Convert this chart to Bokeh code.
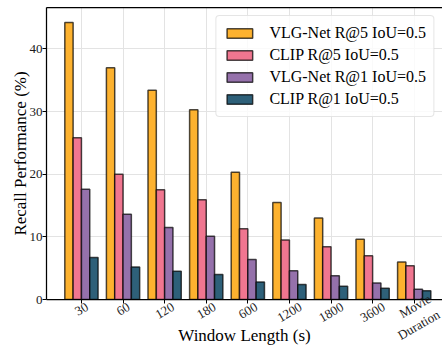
import math
import numpy as np
from bokeh.plotting import figure
from bokeh.models import ColumnDataSource, Range1d, FixedTicker, LinearAxis
from bokeh.embed import file_html
from bokeh.resources import INLINE

# ---- data ----
windows = ["30", "60", "120", "180", "600", "1200", "1800", "3600", "Movie\nDuration"]
vlg_r5 = [44.2, 37.0, 33.4, 30.3, 20.3, 15.5, 13.0, 9.6, 6.0]
clip_r5 = [25.8, 20.0, 17.5, 15.9, 11.3, 9.5, 8.4, 7.0, 5.4]
vlg_r1 = [17.6, 13.6, 11.5, 10.1, 6.4, 4.6, 3.8, 2.65, 1.65]
clip_r1 = [6.7, 5.2, 4.5, 4.0, 2.8, 2.4, 2.1, 1.8, 1.4]
series_names = ["VLG-Net R@5 IoU=0.5", "CLIP R@5 IoU=0.5",
                "VLG-Net R@1 IoU=0.5", "CLIP R@1 IoU=0.5"]
y_ticks = [0, 10, 20, 30, 40]

# ---- style ----
FONT = "Liberation Serif"
colors = ["#FDB22F", "#F07690", "#9571AB", "#2E6079"]
bar_w = 0.2
idx = np.arange(len(windows))
X0, X1 = -0.84, 8.68
FRAME_W = 442 - 46

p = figure(width=442, height=348, output_backend="svg", toolbar_location=None,
           x_range=Range1d(X0, X1), y_range=Range1d(0, 46.6),
           min_border_left=46, min_border_right=0, min_border_top=7,
           min_border_bottom=48)
p.outline_line_color = None
p.background_fill_color = "white"
p.border_fill_color = "white"

# grid
p.xgrid.ticker = FixedTicker(ticks=[float(i) for i in idx])
p.xgrid.grid_line_color = "#e3e3e3"
p.ygrid.grid_line_color = "#e3e3e3"
p.xgrid.grid_line_width = 1
p.ygrid.grid_line_width = 1

# bars
all_series = [vlg_r5, clip_r5, vlg_r1, clip_r1]
for k, (vals, col, name) in enumerate(zip(all_series, colors, series_names)):
    src = ColumnDataSource(dict(x=idx + (k - 1.5) * bar_w, top=vals))
    p.vbar(x="x", top="top", width=bar_w, source=src, fill_color=col,
           line_color="black", line_alpha=0.7, line_width=1.5,
           legend_label=name)

# y axis
ya = p.yaxis[0]
ya.ticker = FixedTicker(ticks=y_ticks)
ya.axis_label = "Recall Performance (%)"
ya.axis_label_text_font = FONT
ya.axis_label_text_font_size = "17px"
ya.axis_label_text_font_style = "normal"
ya.axis_label_text_color = "black"
ya.axis_label_standoff = -3
ya.major_label_text_font = FONT
ya.major_label_text_font_size = "13px"
ya.major_label_text_color = "#1a1a1a"
ya.major_label_standoff = 0
ya.major_tick_out = 4
ya.major_tick_in = 0
ya.minor_tick_out = 0
ya.minor_tick_in = 0
ya.axis_line_width = 1.25
ya.axis_line_color = "black"

# x axis 1: spine + tick marks only
xa = p.xaxis[0]
xa.ticker = FixedTicker(ticks=[float(i) for i in idx])
xa.major_label_overrides = {float(i): "" for i in idx}
xa.major_label_text_font_size = "0px"
xa.major_label_standoff = 0
xa.major_tick_out = 4
xa.major_tick_in = 0
xa.minor_tick_out = 0
xa.minor_tick_in = 0
xa.axis_line_width = 1.25
xa.axis_line_color = "black"

# x axis 2: rotated category labels, shifted so each label is centred on its tick
ANG = math.pi / 6
FS = 13


def text_w(t):
    return max(len(l) * (0.5 if l.isdigit() else 0.46) * FS for l in t.split("\n"))


label_pos = [round(float(i) + (text_w(t) / 2 * math.cos(ANG)) * (X1 - X0) / FRAME_W, 4)
             for i, t in zip(idx, windows)]
xa2 = LinearAxis(ticker=FixedTicker(ticks=label_pos),
                 major_label_overrides={pos: t for pos, t in zip(label_pos, windows)},
                 major_label_orientation=ANG,
                 major_label_text_font=FONT, major_label_text_font_size="13px",
                 major_label_text_color="#1a1a1a", major_label_standoff=2,
                 major_tick_out=0, major_tick_in=0, minor_tick_out=0, minor_tick_in=0,
                 axis_line_color=None,
                 axis_label="Window Length (s)", axis_label_text_font=FONT,
                 axis_label_text_font_size="17px", axis_label_text_font_style="normal",
                 axis_label_text_color="black", axis_label_standoff=-34)
p.add_layout(xa2, "below")

# top spine
top_ax = LinearAxis(ticker=FixedTicker(ticks=[]), major_tick_out=0, major_tick_in=0,
                    minor_tick_out=0, minor_tick_in=0, major_label_standoff=0,
                    major_label_text_font_size="0px", axis_line_width=1.25,
                    axis_line_color="black")
p.add_layout(top_ax, "above")

# legend
lg = p.legend[0]
lg.location = "top_right"
lg.margin = 8
lg.padding = 7
lg.spacing = 2
lg.glyph_width = 32
lg.glyph_height = 12
lg.label_standoff = 14
lg.label_height = 20
lg.label_text_font = FONT
lg.label_text_font_size = "16px"
lg.label_text_color = "black"
lg.border_line_color = "#cccccc"
lg.border_line_width = 1
lg.background_fill_color = "white"
lg.background_fill_alpha = 0.8
try:
    lg.border_radius = 4
except Exception:
    pass

open("out.html", "w").write(file_html(p, INLINE))
